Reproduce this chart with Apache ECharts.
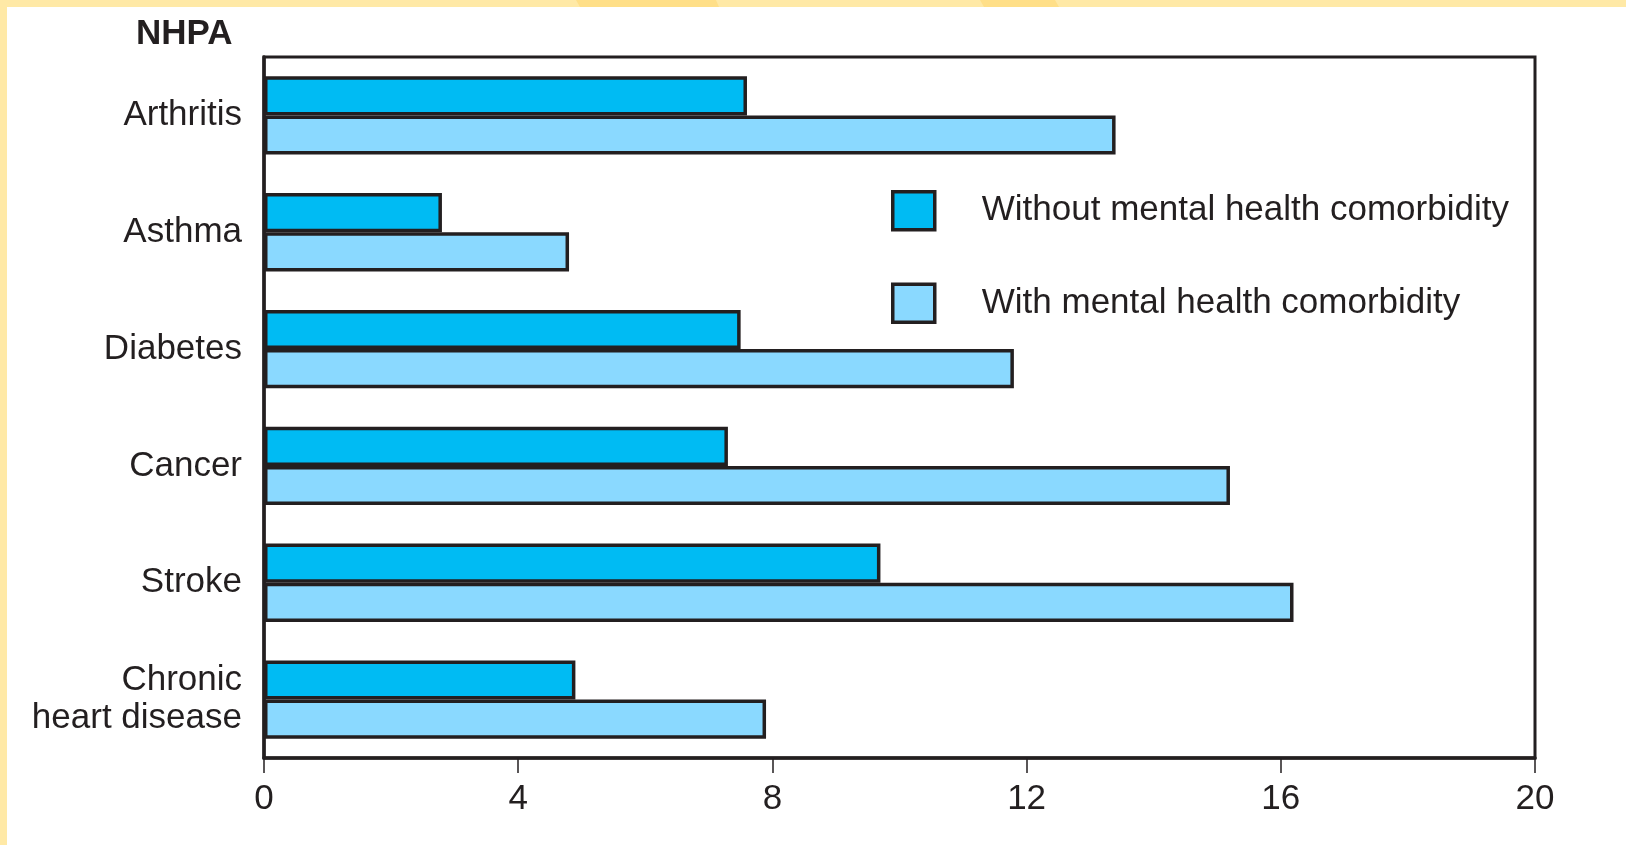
<!DOCTYPE html>
<html>
<head>
<meta charset="utf-8">
<title>NHPA</title>
<script src="https://cdn.jsdelivr.net/npm/echarts@6/dist/echarts.min.js"></script>
<style>
  html, body { margin: 0; padding: 0; background: #ffffff; }
  #chart { width: 1626px; height: 845px; }
</style>
</head>
<body>
<div id="chart"></div>
<script>
// Conditions, top to bottom
const categories = ['Arthritis', 'Asthma', 'Diabetes', 'Cancer', 'Stroke', 'Chronic\nheart disease'];
const seriesNames = ['Without mental health comorbidity', 'With mental health comorbidity'];
const withoutComorbidity = [7.6, 2.8, 7.5, 7.3, 9.7, 4.9];
const withComorbidity = [13.4, 4.8, 11.8, 15.2, 16.2, 7.9];
const xTicks = [0, 4, 8, 12, 16, 20];

const INK = '#231f20';
const FONT = '"Liberation Sans", Arial, Helvetica, sans-serif';
const FILL_DARK = '#00bbf3';
const FILL_LIGHT = '#8ad9ff';

const chart = echarts.init(document.getElementById('chart'), null, { renderer: 'canvas' });

chart.setOption({
  backgroundColor: '#ffffff',
  animation: false,
  textStyle: { fontFamily: FONT, color: INK },
  graphic: [
    // pale frame along the top and left edges
    { type: 'rect', left: 0, top: 0, shape: { width: 1626, height: 7 }, style: { fill: '#ffe9a6' }, z: 0 },
    { type: 'rect', left: 0, top: 0, shape: { width: 7, height: 845 }, style: { fill: '#ffe9a6' }, z: 0 },
    { type: 'polygon', shape: { points: [[576, 0], [716, 0], [719, 7], [580, 7]] }, style: { fill: '#ffdf88' }, z: 1 },
    { type: 'polygon', shape: { points: [[980, 0], [1055, 0], [1059, 7], [984, 7]] }, style: { fill: '#ffdf88' }, z: 1 },
    // axis heading
    {
      type: 'text', left: 136, top: 17, z: 5,
      style: { text: 'NHPA', font: 'bold 35px ' + FONT, fill: INK }
    }
  ],
  legend: {
    orient: 'vertical',
    left: 886,
    top: 185,
    icon: 'rect',
    itemWidth: 42,
    itemHeight: 38,
    itemGap: 51,
    data: seriesNames,
    textStyle: { fontSize: 35, color: INK, fontFamily: FONT, padding: [0, 0, 0, 42] },
    itemStyle: { borderColor: INK, borderWidth: 3.5 }
  },
  grid: {
    left: 264,
    right: 91,
    top: 57,
    bottom: 87,
    show: true,
    borderColor: INK,
    borderWidth: 3,
    backgroundColor: 'transparent'
  },
  xAxis: {
    type: 'value',
    min: 0,
    max: 20,
    interval: 4,
    axisLine: { show: true, lineStyle: { color: INK, width: 3.5 } },
    axisTick: { show: true, length: 15, lineStyle: { color: INK, width: 1.5 } },
    splitLine: { show: false },
    axisLabel: {
      fontSize: 35,
      color: INK,
      margin: 24,
      fontFamily: FONT,
      formatter: v => (xTicks.includes(v) ? String(v) : '')
    }
  },
  yAxis: {
    type: 'category',
    data: categories,
    inverse: true,
    axisLine: { show: true, lineStyle: { color: INK, width: 3.5 } },
    axisTick: { show: false },
    splitLine: { show: false },
    axisLabel: {
      fontSize: 35,
      color: INK,
      margin: 22,
      lineHeight: 38,
      fontFamily: FONT
    }
  },
  series: [
    {
      name: seriesNames[0],
      type: 'bar',
      data: withoutComorbidity,
      barGap: '0%',
      barCategoryGap: '33%',
      itemStyle: { color: FILL_DARK, borderColor: INK, borderWidth: 3.5 }
    },
    {
      name: seriesNames[1],
      type: 'bar',
      data: withComorbidity,
      barGap: '0%',
      barCategoryGap: '33%',
      itemStyle: { color: FILL_LIGHT, borderColor: INK, borderWidth: 3.5 }
    }
  ]
});
</script>
</body>
</html>
